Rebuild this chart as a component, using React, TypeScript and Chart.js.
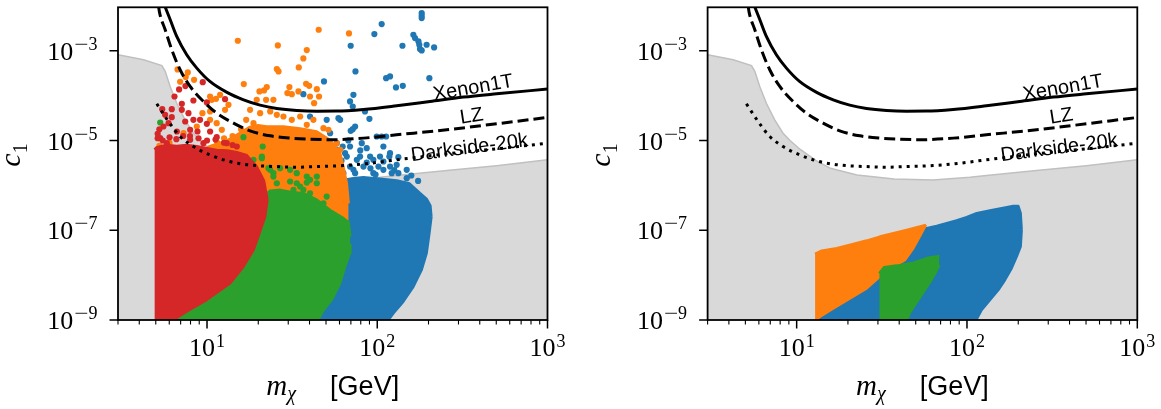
import React, { useEffect, useRef } from "react";
import { Chart, registerables } from "chart.js";
Chart.register(...registerables);

// ---------- axes ----------
const massMin = 3;
const massMax = 1000;
const c1Min = 1e-9;
const c1Max = 9.3e-3;
const xMajorTicks = [10, 100, 1000];
const xMajorExp = ["1", "2", "3"];
const xMinorTicks = [3, 4, 5, 6, 7, 8, 9, 20, 30, 40, 50, 60, 70, 80, 90, 200, 300, 400, 500, 600, 700, 800, 900];
const yMajorTicks = [1e-9, 1e-7, 1e-5, 1e-3];
const yMajorExp = ["\u22129", "\u22127", "\u22125", "\u22123"];

// ---------- grey region (floor) ----------
const floorMass = [3, 4.24, 5.43, 5.68, 6.08, 6.64, 7.43, 8.32, 9.14, 10.5, 13.0, 15.8, 22.6, 37.4, 63.1, 104, 130, 256, 502, 1000];
const floorC1 = [8.13e-4, 6.31e-4, 4.68e-4, 3.47e-4, 1.58e-4, 6.76e-5, 2.88e-5, 1.45e-5, 1.0e-5, 6.31e-6, 3.55e-6, 2.4e-6, 1.7e-6, 1.38e-6, 1.32e-6, 1.51e-6, 1.66e-6, 2.14e-6, 2.75e-6, 3.72e-6];

// ---------- experimental limits ----------
const xenonMass = [5.56, 5.68, 6.08, 6.64, 7.6, 8.71, 10.4, 13.1, 16.4, 20.5, 25.7, 33.7, 44.2, 57.5, 83, 130, 204, 321, 502, 1000];
const xenonC1 = [1.17e-2, 9.42e-3, 4.91e-3, 2.09e-3, 8.15e-4, 4.1e-4, 2.07e-4, 1.18e-4, 8.07e-5, 6.14e-5, 5.18e-5, 4.67e-5, 4.51e-5, 4.52e-5, 4.9e-5, 5.93e-5, 7.41e-5, 9.27e-5, 1.1e-4, 1.4e-4];
const lzMass = [5.19, 5.26, 5.68, 6.21, 6.95, 7.96, 9.53, 11.4, 14.3, 17.9, 23.5, 30.8, 40.3, 52.8, 83, 130, 256, 502, 1000];
const lzC1 = [1.0e-2, 7.16e-3, 2.94e-3, 1.05e-3, 3.77e-4, 1.6e-4, 7.41e-5, 4.07e-5, 2.44e-5, 1.64e-5, 1.27e-5, 1.13e-5, 1.07e-5, 1.04e-5, 1.13e-5, 1.34e-5, 1.73e-5, 2.36e-5, 3.26e-5];
const dsMass = [5.07, 5.94, 6.95, 8.32, 10.4, 13.1, 16.4, 20.5, 25.7, 33.7, 44.2, 63.2, 83, 130, 256, 502, 1000];
const dsC1 = [6.58e-5, 2.65e-5, 1.23e-5, 7.35e-6, 4.79e-6, 3.52e-6, 2.96e-6, 2.72e-6, 2.63e-6, 2.54e-6, 2.63e-6, 2.77e-6, 3.0e-6, 3.71e-6, 5.05e-6, 6.52e-6, 8.7e-6];

const labelText = ["Xenon1T", "LZ", "Darkside-20k"];
const labelMass = [366, 359, 348];
const labelC1 = [1.47e-4, 3.43e-5, 6.75e-6];
const labelAngle = [-10, -9, -7.5];

// ---------- point clouds: [log10(m/GeV), log10(c1)] ----------
type P = [number, number];

// left panel, dense regions (outline: lower edge / upper edge)
const blueLeftLower: P[] = [[1.64, -9.05], [2.056, -9.05], [2.095, -8.85], [2.153, -8.59], [2.212, -8.26], [2.261, -7.88], [2.29, -7.51], [2.306, -7.07], [2.318, -6.7]];
const blueLeftUpper: P[] = [[1.64, -5.9], [1.8, -5.88], [1.86, -5.84], [1.918, -5.82], [2.016, -5.85], [2.114, -5.89], [2.19, -5.96], [2.25, -6.17], [2.29, -6.3], [2.312, -6.45], [2.318, -6.7]];
const orangeLeftLower: P[] = [[1.0, -5.6], [1.2, -6.3], [1.5, -6.6], [1.7, -6.8], [1.832, -6.9]];
const orangeLeftUpper: P[] = [[1.0, -5.15], [1.116, -5.0], [1.2, -4.82], [1.25, -4.7], [1.3, -4.66], [1.351, -4.69], [1.449, -4.69], [1.547, -4.73], [1.645, -4.8], [1.723, -4.99], [1.782, -5.28], [1.801, -5.58], [1.821, -5.95], [1.832, -6.4]];
const greenLeftLower: P[] = [[0.783, -9.05], [1.645, -9.05], [1.684, -8.78], [1.733, -8.55], [1.782, -8.18], [1.811, -7.81], [1.84, -7.51], [1.842, -7.3]];
const greenLeftUpper: P[] = [[0.783, -9.05], [1.0, -8.0], [1.2, -6.6], [1.331, -6.25], [1.37, -6.12], [1.43, -6.1], [1.5, -6.15], [1.566, -6.175], [1.645, -6.32], [1.723, -6.55], [1.801, -6.73], [1.832, -6.82], [1.842, -7.14]];
const redLeftLower: P[] = [[0.691, -9.05], [0.783, -9.05], [0.881, -8.81], [0.999, -8.55], [1.136, -8.18], [1.214, -7.81], [1.273, -7.44], [1.308, -7.07], [1.341, -6.7], [1.355, -6.32]];
const redLeftUpper: P[] = [[0.691, -5.2], [0.705, -5.15], [0.76, -5.1], [0.823, -5.12], [0.88, -5.1], [0.94, -5.13], [1.0, -5.17], [1.057, -5.21], [1.12, -5.22], [1.175, -5.26], [1.234, -5.33], [1.292, -5.58], [1.335, -5.9], [1.355, -6.32]];

// left panel, isolated points
const blueDots: P[] = [[2.261, -2.16], [2.261, -2.219], [2.261, -2.271], [2.026, -2.405], [1.983, -2.628], [1.844, -2.888], [2.212, -2.643], [2.222, -2.717], [2.242, -2.792], [2.247, -2.866], [2.251, -2.963], [2.261, -2.993], [2.29, -2.866], [2.334, -2.926], [2.148, -2.888], [1.872, -3.461], [2.052, -3.61], [2.075, -3.572], [2.306, -3.61], [2.11, -3.818], [2.15, -3.781], [1.86, -3.981], [1.84, -4.13], [1.856, -4.242], [1.928, -4.353], [1.954, -4.517], [1.772, -4.502], [1.782, -4.539], [1.87, -4.688], [1.856, -4.747], [1.844, -4.784], [1.997, -4.911], [2.026, -4.911], [2.052, -4.911], [1.762, -5.059], [1.909, -5.059], [1.938, -5.171], [2.036, -5.134], [2.075, -5.283], [2.071, -5.357], [2.124, -5.372], [1.958, -5.357], [1.977, -5.431], [1.88, -5.431], [1.821, -5.357], [1.797, -5.134], [1.919, -5.58], [2.007, -5.58], [2.036, -5.654], [2.085, -5.729], [2.124, -5.729], [2.173, -5.84], [1.87, -5.729], [1.801, -5.729], [1.84, -5.58], [1.566, -3.967], [1.687, -3.684], [1.605, -4.465], [1.703, -4.539], [1.723, -4.836], [1.811, -5.283], [1.899, -5.357], [2.016, -5.357], [2.075, -5.58], [2.173, -5.654], [1.84, -5.134], [1.938, -5.494], [2.036, -5.468], [2.114, -5.543], [1.977, -5.729], [1.772, -5.58], [1.86, -5.654], [1.79, -5.45], [1.83, -5.0], [1.9, -5.22], [1.96, -5.62], [2.1, -5.66], [2.2, -5.78], [2.24, -5.9], [1.99, -5.76], [1.76, -5.2]];
const orangeDots: P[] = [[1.181, -2.777], [1.656, -2.532], [1.834, -2.613], [1.416, -2.881], [1.586, -2.985], [1.566, -3.171], [1.539, -3.372], [1.41, -3.409], [1.42, -3.461], [0.827, -3.416], [0.887, -3.483], [0.875, -3.587], [0.842, -3.691], [0.924, -3.647], [1.216, -3.743], [1.582, -3.736], [1.6, -3.781], [1.484, -3.81], [1.645, -3.855], [1.472, -3.944], [1.498, -3.967], [1.537, -3.907], [1.351, -3.81], [1.335, -3.885], [1.308, -3.907], [1.605, -4.019], [1.658, -4.019], [1.077, -3.981], [1.053, -4.071], [1.028, -4.093], [1.018, -4.019], [1.292, -4.093], [1.347, -4.093], [1.39, -4.093], [1.629, -4.167], [1.126, -4.204], [1.106, -4.316], [1.018, -4.353], [0.973, -4.39], [1.253, -4.316], [1.312, -4.39], [1.371, -4.353], [1.41, -4.428], [1.449, -4.465], [1.498, -4.539], [1.547, -4.465], [1.586, -4.651], [1.625, -4.539], [1.684, -4.725], [1.713, -4.762], [1.23, -4.539], [1.273, -4.613], [1.018, -4.539], [1.057, -4.613], [1.087, -4.762], [0.94, -4.688], [0.862, -4.836], [1.762, -5.059], [1.782, -5.208], [1.752, -5.357], [0.72, -5.12], [0.78, -5.05], [1.15, -4.9], [1.1, -4.95], [1.2, -4.75], [1.06, -5.05]];
const greenDots: P[] = [[1.214, -4.926], [1.327, -5.134], [0.725, -4.599], [1.361, -5.617], [1.39, -5.729], [1.488, -5.914], [1.547, -6.026], [1.586, -5.937], [1.645, -5.803], [1.273, -5.431], [1.322, -5.357], [0.842, -5.691], [1.322, -5.394], [1.371, -5.654], [1.429, -5.617], [1.488, -5.654], [1.527, -5.729], [1.586, -5.803], [1.605, -5.877], [1.645, -5.952], [1.684, -6.398], [1.703, -6.249], [1.527, -5.952], [1.508, -6.1], [1.41, -5.952], [1.39, -5.803], [1.449, -6.175], [1.566, -6.1], [1.605, -6.175]];
const redDots: P[] = [[0.975, -3.699], [0.873, -3.788], [0.836, -3.862], [0.809, -4.019], [0.852, -4.182], [0.92, -4.108], [1.106, -4.078], [0.999, -4.152], [0.793, -4.301], [0.737, -4.301], [0.754, -4.428], [0.852, -4.316], [0.891, -4.39], [0.793, -4.48], [0.744, -4.688], [0.774, -4.613], [0.872, -4.576], [0.92, -4.539], [0.959, -4.539], [0.999, -4.628], [1.018, -4.799], [0.944, -4.799], [0.901, -4.762], [0.823, -4.799], [0.725, -4.948], [1.057, -4.926], [1.116, -5.059], [1.175, -5.134], [0.764, -5.059], [0.901, -4.985], [0.979, -5.059], [0.71, -4.95], [0.74, -5.0], [0.78, -4.93], [0.82, -4.97], [0.86, -4.9], [0.95, -4.95], [1.0, -5.0], [1.05, -4.98], [1.1, -5.05], [1.15, -5.1], [0.71, -4.85], [0.72, -4.75], [0.9, -4.9]];

// right panel, dense regions
const blueRightLower: P[] = [[1.115, -9.05], [2.047, -9.05], [2.086, -8.777], [2.135, -8.554], [2.184, -8.331], [2.223, -8.108], [2.262, -7.848], [2.292, -7.587], [2.315, -7.364], [2.321, -6.993]];
const blueRightUpper: P[] = [[1.115, -9.05], [1.215, -8.64], [1.313, -8.42], [1.411, -8.19], [1.489, -7.93], [1.568, -7.73], [1.636, -7.56], [1.685, -7.3], [1.728, -7.0], [1.763, -6.955], [1.822, -6.903], [1.881, -6.844], [1.939, -6.784], [1.998, -6.71], [2.057, -6.621], [2.135, -6.561], [2.204, -6.509], [2.272, -6.457], [2.301, -6.457], [2.315, -6.621], [2.321, -6.993]];
const orangeRightLower: P[] = [[1.108, -9.05], [1.117, -9.0], [1.137, -8.926], [1.215, -8.74], [1.313, -8.517], [1.411, -8.294], [1.489, -8.033], [1.568, -7.825], [1.636, -7.662], [1.685, -7.401], [1.728, -7.104], [1.759, -6.881]];
const orangeRightUpper: P[] = [[1.108, -7.528], [1.147, -7.454], [1.235, -7.401], [1.333, -7.305], [1.411, -7.23], [1.489, -7.141], [1.568, -7.067], [1.646, -6.993], [1.724, -6.918], [1.759, -6.881]];
const greenRightLower: P[] = [[1.485, -9.05], [1.642, -9.05], [1.665, -8.836], [1.701, -8.628], [1.74, -8.405], [1.779, -8.182], [1.812, -7.974], [1.838, -7.773]];
const greenRightUpper: P[] = [[1.485, -7.959], [1.513, -7.825], [1.587, -7.788], [1.685, -7.721], [1.773, -7.61], [1.838, -7.572]];

// ---------- style ----------
const BLUE = "#1f77b4";
const ORANGE = "#ff7f0e";
const GREEN = "#2ca02c";
const RED = "#d62728";
const SERIF = '"Liberation Serif", "DejaVu Serif", serif';
const SANS = '"Liberation Sans", "DejaVu Sans", sans-serif';

const fromLog = (a: P[]) => a.map(([lx, ly]) => ({ x: Math.pow(10, lx), y: Math.pow(10, ly) }));
const zip = (xs: number[], ys: number[]) => xs.map((x, i) => ({ x, y: ys[i] }));

function buildDatasets(panel: "left" | "right") {
  const ds: any[] = [];
  let seq = 0;
  const add = (d: any) => {
    d.order = 1000 - seq++;
    d.clip = 0;
    ds.push(d);
    return ds.length - 1;
  };
  add({ type: "line", data: zip(floorMass, floorC1), borderColor: "#c0c0c0", borderWidth: 1.5, backgroundColor: "#d9d9d9", fill: "start", pointRadius: 0, tension: 0 });
  const region = (lower: P[], upper: P[], color: string) => {
    const li = add({ type: "line", data: fromLog(lower), borderColor: color, borderWidth: 2.5, fill: false, pointRadius: 0, tension: 0, borderJoinStyle: "round" });
    add({ type: "line", data: fromLog(upper), borderColor: color, borderWidth: 2.5, backgroundColor: color, fill: li, pointRadius: 0, tension: 0, borderJoinStyle: "round" });
  };
  const dots = (a: P[], color: string) =>
    add({ type: "scatter", data: fromLog(a), backgroundColor: color, borderColor: color, pointRadius: 3.1, pointBorderWidth: 0, borderWidth: 0, showLine: false });
  if (panel === "left") {
    region(blueLeftLower, blueLeftUpper, BLUE);
    dots(blueDots, BLUE);
    region(orangeLeftLower, orangeLeftUpper, ORANGE);
    dots(orangeDots, ORANGE);
    region(greenLeftLower, greenLeftUpper, GREEN);
    dots(greenDots, GREEN);
    region(redLeftLower, redLeftUpper, RED);
    dots(redDots, RED);
  } else {
    region(blueRightLower, blueRightUpper, BLUE);
    region(orangeRightLower, orangeRightUpper, ORANGE);
    region(greenRightLower, greenRightUpper, GREEN);
  }
  const lineBase = { type: "line", borderColor: "#000", borderWidth: 3, pointRadius: 0, fill: false, cubicInterpolationMode: "monotone", borderCapStyle: "butt" };
  add({ ...lineBase, data: zip(xenonMass, xenonC1) });
  add({ ...lineBase, data: zip(lzMass, lzC1), borderDash: [11, 5] });
  add({ ...lineBase, data: zip(dsMass, dsC1), borderDash: [3, 5] });
  return ds;
}

// "10" with a superscript exponent; the minus sign is drawn a bit wider, as in TeX
function drawPower(ctx: CanvasRenderingContext2D, exp: string, x: number, baseline: number, align: "center" | "right", supShift: number) {
  const fBase = `26px ${SERIF}`;
  const fSup = `18px ${SERIF}`;
  const minusStretch = 1.4;
  ctx.font = fBase;
  const w1 = ctx.measureText("10").width;
  ctx.font = fSup;
  const hasMinus = exp.startsWith("\u2212");
  const digits = hasMinus ? exp.slice(1) : exp;
  const wMinus = hasMinus ? ctx.measureText("\u2212").width * minusStretch : 0;
  const wDig = ctx.measureText(digits).width;
  const total = w1 + 1 + wMinus + wDig;
  const x0 = align === "center" ? x - total / 2 : x - total;
  ctx.textAlign = "left";
  ctx.textBaseline = "alphabetic";
  ctx.font = fBase;
  ctx.fillText("10", x0, baseline);
  ctx.font = fSup;
  const ys = baseline - supShift;
  if (hasMinus) {
    ctx.save();
    ctx.translate(x0 + w1 + 1, ys);
    ctx.scale(minusStretch, 1);
    ctx.fillText("\u2212", 0, 0);
    ctx.restore();
  }
  ctx.fillText(digits, x0 + w1 + 1 + wMinus, ys);
}

const decor = {
  id: "decor",
  afterDatasetsDraw(chart: any) {
    const { ctx, scales } = chart;
    ctx.save();
    ctx.fillStyle = "#000";
    ctx.font = `20px ${SANS}`;
    ctx.textAlign = "center";
    ctx.textBaseline = "middle";
    labelText.forEach((t, i) => {
      const px = scales.x.getPixelForValue(labelMass[i]);
      const py = scales.y.getPixelForValue(labelC1[i]);
      ctx.save();
      ctx.translate(px, py);
      ctx.rotate((labelAngle[i] * Math.PI) / 180);
      ctx.fillText(t, 0, 0);
      ctx.restore();
    });
    ctx.restore();
  },
  afterDraw(chart: any) {
    const { ctx, chartArea: a, scales } = chart;
    const xs = scales.x;
    const ys = scales.y;
    ctx.save();
    ctx.strokeStyle = "#000";
    ctx.fillStyle = "#000";
    ctx.lineWidth = 1.8;
    ctx.strokeRect(a.left, a.top, a.right - a.left, a.bottom - a.top);
    const seg = (x1: number, y1: number, x2: number, y2: number, w: number) => {
      ctx.lineWidth = w;
      ctx.beginPath();
      ctx.moveTo(x1, y1);
      ctx.lineTo(x2, y2);
      ctx.stroke();
    };
    xMinorTicks.forEach((v) => {
      const px = xs.getPixelForValue(v);
      seg(px, a.bottom, px, a.bottom + 4.5, 1.1);
    });
    xMajorTicks.forEach((v, i) => {
      const px = xs.getPixelForValue(v);
      seg(px, a.bottom, px, a.bottom + 8.5, 1.5);
      drawPower(ctx, xMajorExp[i], px, a.bottom + 36, "center", 9);
    });
    yMajorTicks.forEach((v, i) => {
      const py = ys.getPixelForValue(v);
      seg(a.left, py, a.left - 8.5, py, 1.5);
      drawPower(ctx, yMajorExp[i], a.left - 20.5, py + 9, "right", 10);
    });
    // x title
    const cx = (a.left + a.right) / 2;
    const base = 395;
    ctx.textAlign = "left";
    ctx.textBaseline = "alphabetic";
    const fM = `italic 29px ${SERIF}`;
    const fChi = `italic 20px ${SERIF}`;
    const fG = `27px ${SANS}`;
    ctx.font = fM;
    const wm = ctx.measureText("m").width;
    ctx.font = fChi;
    const wc = ctx.measureText("\u03c7").width;
    ctx.font = fG;
    const wg = ctx.measureText("[GeV]").width;
    const gap = 34;
    const x0 = cx - (wm + wc + gap + wg) / 2;
    ctx.font = fM;
    ctx.fillText("m", x0, base);
    ctx.font = fChi;
    ctx.fillText("\u03c7", x0 + wm, base + 5);
    ctx.font = fG;
    ctx.fillText("[GeV]", x0 + wm + wc + gap, base);
    // y title
    ctx.save();
    ctx.translate(a.left - 98, 155);
    ctx.rotate(-Math.PI / 2);
    ctx.font = `italic 30px ${SERIF}`;
    const wC = ctx.measureText("c").width;
    ctx.font = `20px ${SERIF}`;
    const w1 = ctx.measureText("1").width;
    const t0 = -(wC + w1) / 2;
    ctx.font = `italic 30px ${SERIF}`;
    ctx.fillText("c", t0, 0);
    ctx.font = `20px ${SERIF}`;
    ctx.fillText("1", t0 + wC, 7);
    ctx.restore();
    ctx.restore();
  },
};

function makeConfig(panel: "left" | "right", padding: any): any {
  return {
    type: "scatter",
    data: { datasets: buildDatasets(panel) },
    options: {
      responsive: false,
      animation: false,
      events: [],
      layout: { padding },
      plugins: { legend: { display: false }, tooltip: { enabled: false } },
      scales: {
        x: { type: "logarithmic", min: massMin, max: massMax, display: false },
        y: { type: "logarithmic", min: c1Min, max: c1Max, display: false },
      },
    },
    plugins: [decor],
  };
}

export default function App() {
  const leftRef = useRef<HTMLCanvasElement>(null);
  const rightRef = useRef<HTMLCanvasElement>(null);
  useEffect(() => {
    document.body.style.margin = "0";
    const c1 = new Chart(leftRef.current as HTMLCanvasElement, makeConfig("left", { left: 118, right: 32.5, top: 7.3, bottom: 89 }));
    const c2 = new Chart(rightRef.current as HTMLCanvasElement, makeConfig("right", { left: 127.6, right: 23.7, top: 7.3, bottom: 89 }));
    return () => {
      c1.destroy();
      c2.destroy();
    };
  }, []);
  return (
    <div style={{ position: "fixed", left: 0, top: 0, width: 1161, height: 409, background: "#fff" }}>
      <canvas ref={leftRef} width={580} height={409} style={{ position: "absolute", left: 0, top: 0, width: 580, height: 409 }} />
      <canvas ref={rightRef} width={581} height={409} style={{ position: "absolute", left: 580, top: 0, width: 581, height: 409 }} />
    </div>
  );
}
